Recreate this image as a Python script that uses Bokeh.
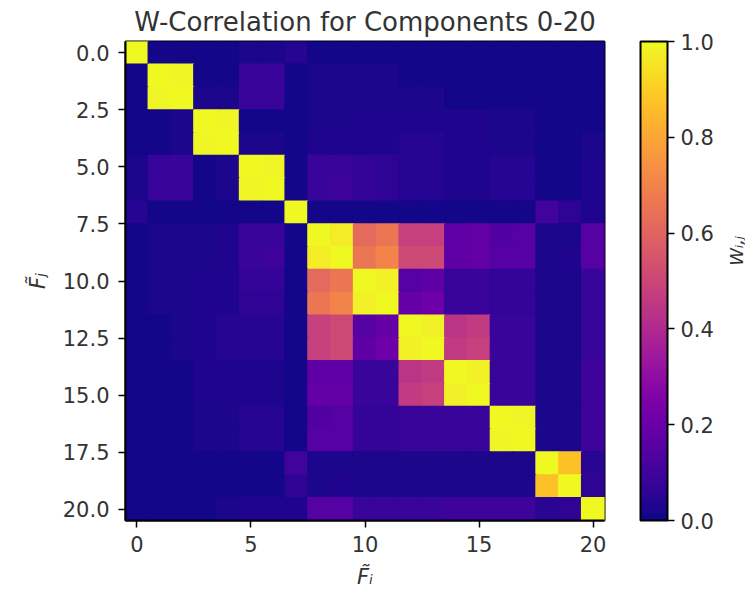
from bokeh.plotting import figure
from bokeh.layouts import row
from bokeh.models import (ColumnDataSource, LinearColorMapper, ColorBar, FixedTicker,
                          Range1d, Label, PrintfTickFormatter)
from bokeh.palettes import Plasma256
from bokeh.transform import transform
from bokeh.embed import file_html
from bokeh.resources import INLINE

# ---------------- data ----------------
components = list(range(21))
x_ticks = [0, 5, 10, 15, 20]
y_ticks = [0, 2.5, 5, 7.5, 10, 12.5, 15, 17.5, 20]
cbar_ticks = [0.0, 0.2, 0.4, 0.6, 0.8, 1.0]
title_text = "W-Correlation for Components 0-20"
x_label = "F\u0303\u1d62"
y_label = "F\u0303\u2c7c"
cbar_label = "W\u1d62,\u2c7c"

wcorr = [
    [1.00, .01, .01, .01, .01, .02, .02, .04, .01, .01, .01, .01, .01, .01, .01, .01, .01, .01, .01, .01, .01],
    [.01, 1.00, .99, .01, .01, .08, .08, .01, .02, .02, .02, .02, .01, .01, .01, .01, .01, .01, .01, .01, .01],
    [.01, .99, 1.00, .02, .02, .08, .08, .01, .02, .02, .02, .02, .02, .02, .01, .01, .01, .01, .01, .01, .01],
    [.01, .01, .02, 1.00, .99, .01, .01, .01, .02, .02, .03, .03, .03, .03, .03, .03, .02, .02, .01, .01, .01],
    [.01, .01, .02, .99, 1.00, .02, .02, .01, .03, .03, .03, .03, .04, .04, .03, .03, .02, .02, .01, .01, .02],
    [.02, .08, .08, .01, .02, 1.00, .99, .01, .08, .08, .07, .06, .04, .04, .03, .03, .04, .04, .01, .01, .03],
    [.02, .08, .08, .01, .02, .99, 1.00, .01, .08, .09, .07, .06, .04, .04, .03, .03, .04, .04, .01, .01, .03],
    [.04, .01, .01, .01, .01, .01, .01, 1.00, .01, .01, .01, .01, .01, .01, .01, .01, .01, .01, .10, .06, .03],
    [.01, .02, .02, .02, .03, .08, .08, .01, 1.00, .97, .62, .66, .48, .48, .17, .18, .14, .15, .02, .02, .15],
    [.01, .02, .02, .02, .03, .08, .09, .01, .97, 1.00, .66, .70, .51, .51, .17, .18, .15, .15, .02, .03, .15],
    [.01, .02, .02, .03, .03, .07, .07, .01, .62, .66, 1.00, .98, .15, .17, .08, .08, .07, .07, .02, .02, .08],
    [.01, .02, .02, .03, .03, .06, .06, .01, .66, .70, .98, 1.00, .19, .21, .08, .08, .07, .07, .02, .02, .08],
    [.01, .01, .02, .03, .04, .04, .04, .01, .48, .51, .15, .19, 1.00, .98, .44, .46, .08, .08, .02, .02, .08],
    [.01, .01, .02, .03, .04, .04, .04, .01, .48, .51, .17, .21, .98, 1.00, .46, .48, .08, .08, .02, .02, .08],
    [.01, .01, .01, .03, .03, .03, .03, .01, .17, .17, .08, .08, .44, .46, 1.00, .98, .08, .08, .02, .02, .09],
    [.01, .01, .01, .03, .03, .03, .03, .01, .18, .18, .08, .08, .46, .48, .98, 1.00, .08, .08, .02, .02, .09],
    [.01, .01, .01, .02, .02, .04, .04, .01, .14, .15, .07, .07, .08, .08, .08, .08, 1.00, .99, .02, .02, .09],
    [.01, .01, .01, .02, .02, .04, .04, .01, .15, .15, .07, .07, .08, .08, .08, .08, .99, 1.00, .02, .02, .09],
    [.01, .01, .01, .01, .01, .01, .01, .10, .02, .02, .02, .02, .02, .02, .02, .02, .02, .02, 1.00, .87, .05],
    [.01, .01, .01, .01, .01, .01, .01, .06, .02, .03, .02, .02, .02, .02, .02, .02, .02, .02, .87, 1.00, .06],
    [.01, .01, .01, .01, .02, .03, .03, .03, .15, .15, .08, .08, .08, .08, .09, .09, .09, .09, .05, .06, 1.00],
]

# ---------------- build ----------------
xs, ys, ws = [], [], []
for j, r in enumerate(wcorr):
    for i, w in enumerate(r):
        xs.append(components[i])
        ys.append(components[j])
        ws.append(w)
src = ColumnDataSource(dict(x=xs, y=ys, w=ws))
mapper = LinearColorMapper(palette=Plasma256, low=0, high=1)

FONT = "DejaVu Sans"
FW, FH = 479, 479
MAIN_W = 715
p = figure(frame_width=FW, frame_height=FH,
           min_border_left=125, min_border_right=MAIN_W - 125 - FW,
           min_border_top=40, min_border_bottom=79,
           x_range=Range1d(-0.5, 20.5), y_range=Range1d(20.5, -0.5),
           output_backend="svg", toolbar_location=None, title=title_text)
p.rect(x='x', y='y', width=1, height=1, source=src,
       fill_color=transform('w', mapper), line_color=transform('w', mapper), line_width=1.5)

p.grid.visible = False
p.outline_line_color = "black"
p.outline_line_width = 2
p.outline_line_alpha = 1
p.background_fill_color = "white"
p.border_fill_color = "white"

p.title.text_font = FONT
p.title.text_font_size = "26px"
p.title.text_font_style = "normal"
p.title.text_color = "#333333"
p.title.align = "center"
p.title.standoff = 9

for ax in (p.xaxis[0], p.yaxis[0]):
    ax.axis_line_color = "black"
    ax.axis_line_width = 2
    ax.major_tick_line_color = "black"
    ax.major_tick_line_width = 1.5
    ax.major_tick_out = 7
    ax.major_tick_in = 0
    ax.minor_tick_line_color = None
    ax.major_label_text_font = FONT
    ax.major_label_text_font_size = "21px"
    ax.major_label_text_color = "#333333"
    ax.axis_label_text_font = FONT
    ax.axis_label_text_font_size = "21px"
    ax.axis_label_text_font_style = "italic"
    ax.axis_label_text_color = "#333333"

p.xaxis[0].ticker = FixedTicker(ticks=x_ticks)
p.xaxis[0].formatter = PrintfTickFormatter(format="%d")
p.xaxis[0].axis_label = x_label
p.xaxis[0].major_label_standoff = 8
p.xaxis[0].axis_label_standoff = 10

p.yaxis[0].ticker = FixedTicker(ticks=y_ticks)
p.yaxis[0].formatter = PrintfTickFormatter(format="%.1f")
p.yaxis[0].axis_label = y_label
p.yaxis[0].major_label_standoff = 9
p.yaxis[0].axis_label_standoff = 10

cb = ColorBar(color_mapper=mapper, width=27, height=FH, location=(36, 0),
              padding=0, margin=0,
              ticker=FixedTicker(ticks=cbar_ticks),
              formatter=PrintfTickFormatter(format="%.1f"),
              bar_line_color="black", bar_line_width=2,
              major_tick_line_color="black", major_tick_line_width=1.5,
              major_tick_in=0, major_tick_out=7, label_standoff=6,
              major_label_text_font=FONT, major_label_text_font_size="21px",
              major_label_text_color="#333333",
              background_fill_alpha=0, border_line_color=None)
p.add_layout(cb, "right")

# narrow strip on the right that carries the colour-bar label
SIDE_W = 745 - MAIN_W
side = figure(width=SIDE_W, height=598, min_border=0,
              x_range=Range1d(0, SIDE_W), y_range=Range1d(598, 0),
              output_backend="svg", toolbar_location=None)
side.axis.visible = False
side.grid.visible = False
side.outline_line_color = None
side.background_fill_color = "white"
side.border_fill_color = "white"
side.add_layout(Label(x=SIDE_W - 10, y=262, text=cbar_label,
                      angle=90, angle_units="deg",
                      text_align="center", text_baseline="alphabetic",
                      text_font=FONT, text_font_size="18px", text_font_style="italic",
                      text_color="#333333"))

layout = row(p, side)
open("out.html", "w").write(file_html(layout, INLINE))
